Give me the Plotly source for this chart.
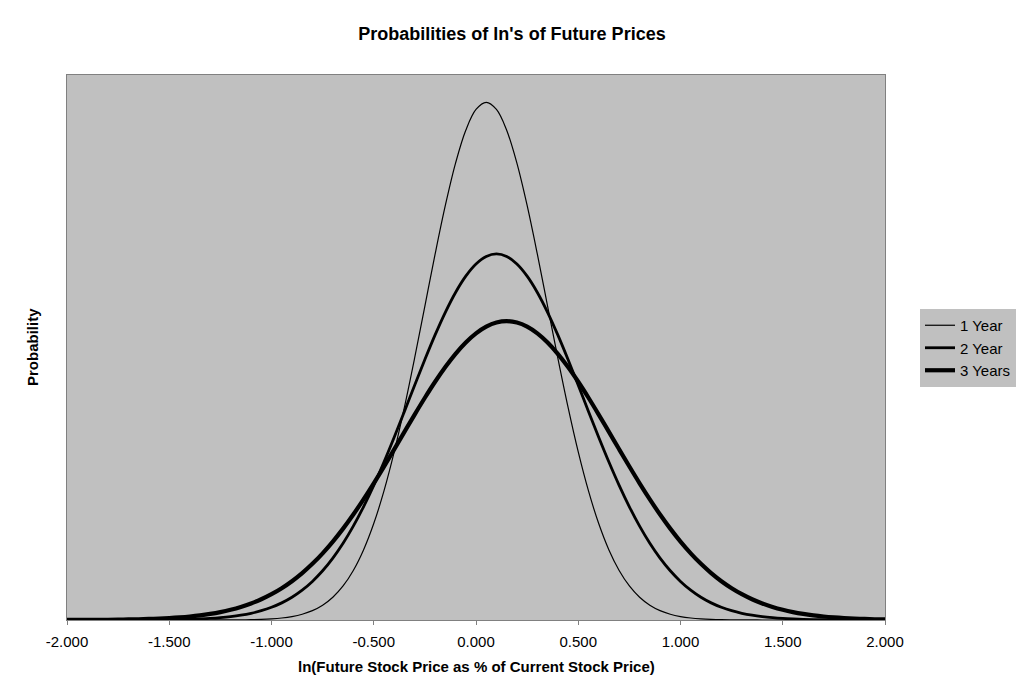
import plotly.graph_objects as go

# x grid: -2.00 .. 2.00 in steps of 0.05 (81 points)
x_vals = [round(-2 + 0.05 * i, 2) for i in range(81)]

year1 = [0.0] * 12 + [
    0.00001, 0.00002, 0.00005, 0.00011, 0.00023, 0.00045, 0.00086, 0.00160,
    0.00291, 0.00514, 0.00884, 0.01477, 0.02402, 0.03799, 0.05843, 0.08741,
    0.12720, 0.17997, 0.24771, 0.33159, 0.43173, 0.54670, 0.67333, 0.80657,
    0.93971, 1.06483, 1.17355, 1.25795, 1.31147, 1.32981,
    1.31147, 1.25795, 1.17355, 1.06483, 0.93971, 0.80657, 0.67333, 0.54670,
    0.43173, 0.33159, 0.24771, 0.17997, 0.12720, 0.08741, 0.05843, 0.03799,
    0.02402, 0.01477, 0.00884, 0.00514, 0.00291, 0.00160, 0.00086, 0.00045,
    0.00023, 0.00011, 0.00005, 0.00002, 0.00001,
] + [0.0] * 10

year2 = [
    0.00000, 0.00001, 0.00001, 0.00002, 0.00004, 0.00007, 0.00012, 0.00019,
    0.00031, 0.00049, 0.00077, 0.00119, 0.00182, 0.00274, 0.00406, 0.00595,
    0.00860, 0.01225, 0.01722, 0.02387, 0.03263, 0.04398, 0.05847, 0.07666,
    0.09911, 0.12638, 0.15893, 0.19710, 0.24107, 0.29079, 0.34592, 0.40583,
    0.46955, 0.53578, 0.60291, 0.66910, 0.73232, 0.79045, 0.84143, 0.88335,
    0.91456, 0.93381, 0.94032,
    0.93381, 0.91456, 0.88335, 0.84143, 0.79045, 0.73232, 0.66910, 0.60291,
    0.53578, 0.46955, 0.40583, 0.34592, 0.29079, 0.24107, 0.19710, 0.15893,
    0.12638, 0.09911, 0.07666, 0.05847, 0.04398, 0.03263, 0.02387, 0.01722,
    0.01225, 0.00860, 0.00595, 0.00406, 0.00274, 0.00182, 0.00119, 0.00077,
    0.00049, 0.00031, 0.00019, 0.00012, 0.00007, 0.00004,
]

year3 = [
    0.00015, 0.00022, 0.00032, 0.00047, 0.00067, 0.00096, 0.00136, 0.00190,
    0.00264, 0.00364, 0.00496, 0.00670, 0.00897, 0.01190, 0.01564, 0.02037,
    0.02627, 0.03358, 0.04252, 0.05335, 0.06633, 0.08167, 0.09968, 0.12050,
    0.14434, 0.17131, 0.20143, 0.23469, 0.27092, 0.30985, 0.35110, 0.39418,
    0.43848, 0.48325, 0.52768, 0.57088, 0.61194, 0.64990, 0.68385, 0.71295,
    0.73643, 0.75368, 0.76422, 0.76777,
    0.76422, 0.75368, 0.73643, 0.71295, 0.68385, 0.64990, 0.61194, 0.57088,
    0.52768, 0.48325, 0.43848, 0.39418, 0.35110, 0.30985, 0.27092, 0.23469,
    0.20143, 0.17131, 0.14434, 0.12050, 0.09968, 0.08167, 0.06633, 0.05335,
    0.04252, 0.03358, 0.02627, 0.02037, 0.01564, 0.01190, 0.00897, 0.00670,
    0.00496, 0.00364, 0.00264, 0.00190, 0.00136,
]

series_names = ["1 Year", "2 Year", "3 Years"]
series_widths = [1.2, 2.8, 4.2]
x_ticks = [-2.0, -1.5, -1.0, -0.5, 0.0, 0.5, 1.0, 1.5, 2.0]
x_tick_labels = ["-2.000", "-1.500", "-1.000", "-0.500", "0.000",
                 "0.500", "1.000", "1.500", "2.000"]

FONT = "Arial, Liberation Sans, sans-serif"

# page body has an 8px margin, so figure is sized to fill the rest of the window
W, H = 1016, 691
OFF = 8

fig = go.Figure()
for name, ys, w in zip(series_names, [year1, year2, year3], series_widths):
    fig.add_trace(go.Scatter(
        x=x_vals, y=ys, mode="lines", name=name,
        line=dict(color="black", width=w, shape="spline", smoothing=1.0),
    ))

fig.update_layout(
    width=W, height=H,
    margin=dict(l=67 - OFF, r=W - (885 - OFF), t=75 - OFF, b=H - (620 - OFF),
                pad=0, autoexpand=False),
    paper_bgcolor="white",
    plot_bgcolor="#C0C0C0",
    font=dict(family=FONT, color="black", size=15),
    title=dict(
        text="<b>Probabilities of ln's of Future Prices</b>",
        x=(512 - OFF) / W, xanchor="center", y=1 - (34 - OFF) / H, yanchor="middle",
        font=dict(size=18, family=FONT, color="black"),
    ),
    showlegend=True,
    legend=dict(
        x=(920 - 67) / 818, xanchor="left", y=(620 - 348) / 545, yanchor="middle",
        bgcolor="#C0C0C0", borderwidth=0,
        font=dict(size=15, family=FONT, color="black"),
        itemwidth=30, tracegroupgap=0,
    ),
    xaxis=dict(
        range=[-2, 2], tickvals=x_ticks, ticktext=x_tick_labels,
        showgrid=False, zeroline=False,
        showline=True, linecolor="#808080", linewidth=1, mirror=True,
        ticks="outside", ticklen=4, tickcolor="#808080",
        ticklabelstandoff=4,
        tickfont=dict(size=15, family=FONT, color="black"),
    ),
    yaxis=dict(
        range=[0, 1.4], showticklabels=False, ticks="",
        showgrid=False, zeroline=False,
        showline=True, linecolor="#808080", linewidth=1, mirror=True,
    ),
    annotations=[
        dict(
            text="<b>ln(Future Stock Price as % of Current Stock Price)</b>",
            xref="paper", yref="paper", x=0.5, y=-46 / 545,
            xanchor="center", yanchor="middle", showarrow=False,
            font=dict(size=15, family=FONT, color="black"),
        ),
        dict(
            text="<b>Probability</b>",
            xref="paper", yref="paper", x=-35 / 818, y=(620 - 347) / 545,
            xanchor="center", yanchor="middle", showarrow=False,
            textangle=-90,
            font=dict(size=15, family=FONT, color="black"),
        ),
    ],
)

fig.write_html("out.html")
